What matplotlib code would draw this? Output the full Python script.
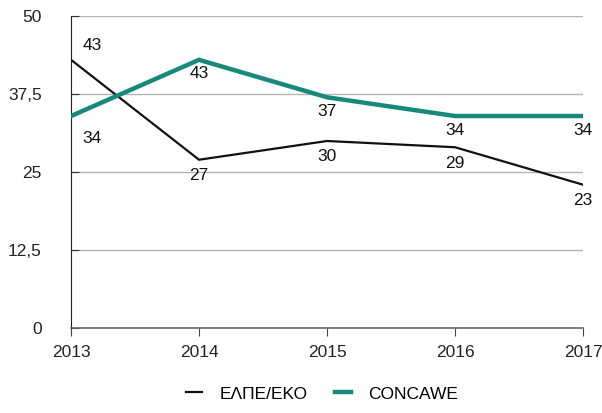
import matplotlib.pyplot as plt

plt.rcParams['font.family'] = ['Liberation Sans', 'DejaVu Sans']

years = [2013, 2014, 2015, 2016, 2017]
elpe = [43, 27, 30, 29, 23]
concawe = [34, 43, 37, 34, 34]
yticks = [0, 12.5, 25, 37.5, 50]
ytick_labels = ['0', '12,5', '25', '37,5', '50']

black = '#111111'
teal = '#16897b'

fig = plt.figure(figsize=(6.02, 4.13), dpi=100)
ax = fig.add_axes([0.118, 0.205, 0.8505, 0.756])

ax.plot(years, elpe, color=black, lw=1.6, label='ΕΛΠΕ/ΕΚΟ', zorder=3, solid_joinstyle='miter')
ax.plot(years, concawe, color=teal, lw=3.2, label='CONCAWE', zorder=3, solid_joinstyle='miter')

# value labels (offsets in pixels)
for i, (x, v) in enumerate(zip(years, elpe)):
    off = (21, 14) if i == 0 else (0, -16)
    ax.annotate(str(v), (x, v), xytext=off, textcoords='offset pixels',
                ha='center', va='center', fontsize=12.5, color='#111111')
for i, (x, v) in enumerate(zip(years, concawe)):
    off = (21, -22) if i == 0 else (0, -14)
    ax.annotate(str(v), (x, v), xytext=off, textcoords='offset pixels',
                ha='center', va='center', fontsize=12.5, color='#111111')

ax.set_xlim(2013, 2017)
ax.set_ylim(0, 50)
ax.set_yticks(yticks)
ax.set_yticklabels(ytick_labels)
ax.set_xticks(years)
ax.grid(axis='y', color='#b4b4b4', lw=1)
ax.set_axisbelow(True)

for s in ['top', 'right']:
    ax.spines[s].set_visible(False)
ax.spines['left'].set_color('#222222')
ax.spines['bottom'].set_color('#666666')
ax.spines['bottom'].set_linewidth(1.2)

ax.tick_params(axis='y', direction='in', length=6, pad=21, labelsize=12.5,
               colors='#333333', labelcolor='#222222')
ax.tick_params(axis='x', direction='out', length=6, pad=6, labelsize=12.5,
               colors='#444444', labelcolor='#222222')

fig.legend(loc='lower center', bbox_to_anchor=(0.535, -0.01), ncol=2, frameon=False,
           fontsize=12.5, handlelength=0.9, handletextpad=1.0, columnspacing=1.6)

plt.savefig('out.png', dpi=100)
